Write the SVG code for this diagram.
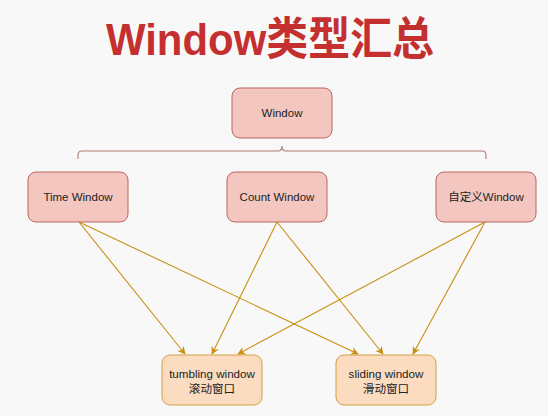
<svg xmlns="http://www.w3.org/2000/svg" width="548" height="416" viewBox="0 0 548 416">
<style>
.bg{fill:#f8f8f9}
.title{font-family:"Liberation Sans","Noto Sans CJK SC",sans-serif;font-weight:bold;font-size:45px;fill:#c4302f}
.red rect{fill:#f3c6bf;stroke:#b9675f;stroke-width:1}
.org rect{fill:#fbdcc1;stroke:#d2a043;stroke-width:1}
.lbl{font-family:"Liberation Sans","Noto Sans CJK SC",sans-serif;font-size:11.5px;fill:#222;text-anchor:middle}
.lbl2{font-family:"Liberation Sans","Noto Sans CJK SC",sans-serif;font-size:11.6px;fill:#222;text-anchor:middle}
.edge{fill:none;stroke:#c8900f;stroke-width:1.1}
.brace{fill:none;stroke:#b07a72;stroke-width:1.1}
</style>
<defs>
<marker id="ah" viewBox="0 0 10 10" refX="9" refY="5" markerWidth="8" markerHeight="8" orient="auto" markerUnits="userSpaceOnUse">
<path d="M0,0 L10,5 L0,10 L3,5 Z" fill="#c8900f"/>
</marker>
</defs>
<rect class="bg" x="0" y="0" width="548" height="416"/>
<text class="title" x="270" y="55" text-anchor="middle" textLength="328" lengthAdjust="spacingAndGlyphs">Window类型汇总</text>

<g id="connectors">
<path class="brace" d="M78,159 V155 Q78,151 82,151 H278 Q282,151 282,146 Q282,151 286,151 H482 Q486,151 486,155 V159"/>
<line class="edge" x1="79" y1="222" x2="185" y2="354" marker-end="url(#ah)"/>
<line class="edge" x1="79" y1="222" x2="358" y2="354" marker-end="url(#ah)"/>
<line class="edge" x1="277" y1="222" x2="212" y2="354" marker-end="url(#ah)"/>
<line class="edge" x1="277" y1="222" x2="383" y2="354" marker-end="url(#ah)"/>
<line class="edge" x1="485" y1="222" x2="238" y2="354" marker-end="url(#ah)"/>
<line class="edge" x1="485" y1="222" x2="413" y2="354" marker-end="url(#ah)"/>
</g>

<g id="window" class="red">
<rect x="232" y="88" width="100" height="50" rx="8"/>
<text class="lbl" x="282" y="117">Window</text>
</g>
<g id="time-window" class="red">
<rect x="28" y="172" width="100" height="50" rx="8"/>
<text class="lbl" x="78" y="201">Time Window</text>
</g>
<g id="count-window" class="red">
<rect x="227" y="172" width="100" height="50" rx="8"/>
<text class="lbl" x="277" y="201">Count Window</text>
</g>
<g id="custom-window" class="red">
<rect x="436" y="172" width="100" height="50" rx="8"/>
<text class="lbl" x="486" y="201">自定义Window</text>
</g>
<g id="tumbling" class="org">
<rect x="162" y="355" width="100" height="50" rx="8"/>
<text class="lbl2" x="212" y="378">tumbling window</text>
<text class="lbl2" x="212" y="393">滚动窗口</text>
</g>
<g id="sliding" class="org">
<rect x="336" y="355" width="100" height="50" rx="8"/>
<text class="lbl2" x="386" y="378">sliding window</text>
<text class="lbl2" x="386" y="393">滑动窗口</text>
</g>
</svg>
